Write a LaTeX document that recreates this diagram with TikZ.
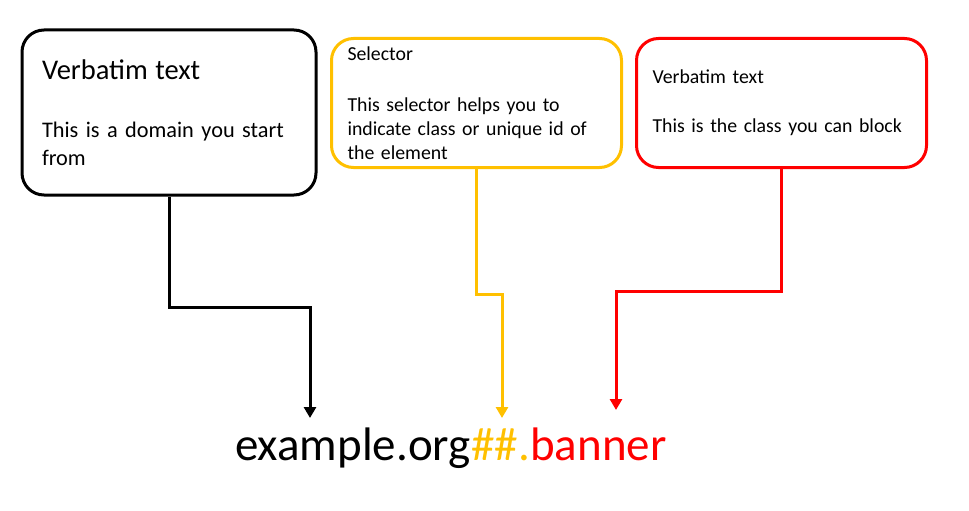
\documentclass[tikz,border=0pt]{standalone}
\usepackage{fontspec}
\setmainfont{Carlito}
\usetikzlibrary{arrows.meta}
\definecolor{selorange}{HTML}{FFC000}
\definecolor{clsred}{HTML}{FF0000}
\tikzset{
  infobox/.style={draw, line width=3pt, rounded corners=22pt, align=left, inner ysep=0pt},
  addrpart/.style={anchor=base west, inner sep=0pt, font=\fontsize{47}{54}\selectfont},
  link/.style={line width=3pt, -{Triangle[width=12pt,length=11pt]}},
}

\begin{document}
\begin{tikzpicture}[x=1pt,y=-1pt]
\useasboundingbox (0,0) rectangle (969,511);

% boxes
\node[infobox, inner xsep=20pt, minimum width=294pt, minimum height=165pt, text width=254pt,
  font=\fontsize{22.3}{28}\selectfont] (dombox) at (169,112.5)
  {{\fontsize{28.5}{28}\selectfont Verbatim text}\\[30pt]This is a domain you start\\from};
\node[infobox, draw=selorange, inner xsep=16pt, minimum width=290pt, minimum height=129pt, text width=258pt,
  font=\fontsize{19.8}{24}\selectfont] (selbox) at (476.5,103)
  {Selector\\[27pt]This selector helps you to\\indicate class or unique id of\\the element};
\node[infobox, draw=clsred, inner xsep=16pt, minimum width=290pt, minimum height=129pt, text width=258pt,
  font=\fontsize{19.8}{24}\selectfont] (clsbox) at (781.5,103)
  {Verbatim text\\[25pt]This is the class you can block};

% address
\node[addrpart] (domain) at (235,460) {example.org};
\node[addrpart, text=selorange] (sel) at (domain.base east) {\#\#.};
\node[addrpart, text=clsred] (cls) at (sel.base east) {banner};

% arrows
\coordinate (tipA) at (310,418);
\coordinate (tipB) at (502,418);
\coordinate (tipC) at (616,410);
\draw[link] (dombox.south) -- ++(0,111) -| (tipA);
\draw[link, selorange] (selbox.south) -- ++(0,125.5) -| (tipB);
\draw[link, clsred] (clsbox.south) -- ++(0,122.5) -| (tipC);
\end{tikzpicture}
\end{document}
